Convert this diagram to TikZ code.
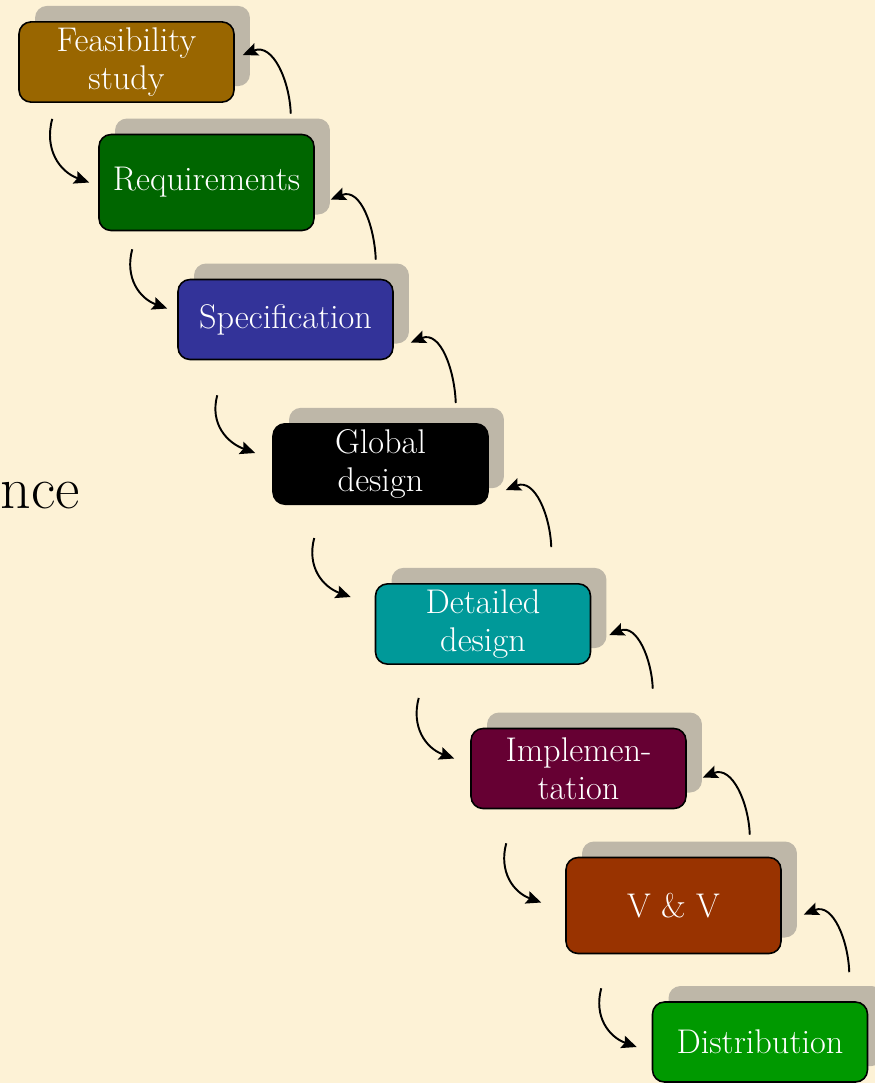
\documentclass[tikz,border=0pt]{standalone}
\usetikzlibrary{calc,arrows.meta,shadows}
\definecolor{paper}{RGB}{253,242,214}
\definecolor{shadowgray}{RGB}{190,183,168}
\definecolor{feascol}{RGB}{153,102,0}
\definecolor{reqcol}{RGB}{0,102,0}
\definecolor{speccol}{RGB}{51,51,153}
\definecolor{detcol}{RGB}{0,153,153}
\definecolor{implcol}{RGB}{102,0,51}
\definecolor{vvcol}{RGB}{153,51,0}
\definecolor{distcol}{RGB}{0,153,0}
\tikzset{
  phase/.style={draw=black, line width=0.9pt, rounded corners=0.24cm,
    minimum width=4.3cm, minimum height=1.6cm, text=white, align=center,
    font=\fontsize{19.5}{21.5}\selectfont,
    drop shadow={shadow xshift=0.32cm, shadow yshift=0.32cm, fill=shadowgray, opacity=1}},
  tallphase/.style={phase, minimum height=1.92cm},
  flow/.style={->, line width=1.1pt},
  down/.style={out=255, in=160, looseness=1.1},
  up/.style={out=92, in=22, looseness=1.1}
}

\begin{document}
\begin{tikzpicture}[x=0.02cm,y=-0.02cm,>={Stealth[length=0.3cm,width=0.26cm,inset=0.05cm]}]
	\fill[paper] (0,0) rectangle (875,1083);
	\useasboundingbox (0,0) rectangle (875,1083);
	\node[anchor=base east, inner sep=0pt, font=\fontsize{34}{40}\selectfont] (tail) at (80,508) {nce};
	\node[phase, fill=feascol] (feas) at (126.5,62) {Feasibility\\study};
	\node[tallphase, fill=reqcol] (req) at (206.5,182.5) {Requirements};
	\node[phase, fill=speccol] (spec) at (285.5,319.5) {Specification};
	\node[phase, fill=black] (glob) at (380.5,464) {Global\\design};
	\node[phase, fill=detcol] (det) at (483,624) {Detailed\\design};
	\node[phase, fill=implcol] (impl) at (578.5,768.5) {Implemen-\\tation};
	\node[tallphase, fill=vvcol] (vv) at (673.5,905.5) {V \& V};
	\node[phase, fill=distcol] (dist) at (760,1042) {Distribution};
	\draw[flow] ([shift={(34,16)}]feas.south west) to[down] ([shift={(-9,0)}]req.west);
	\draw[flow] ([shift={(34,18)}]req.south west) to[down] ([shift={(-10,-11)}]spec.west);
	\draw[flow] ([shift={(40,35)}]spec.south west) to[down] ([shift={(-17,-11)}]glob.west);
	\draw[flow] ([shift={(42,33)}]glob.south west) to[down] ([shift={(-24,-27)}]det.west);
	\draw[flow] ([shift={(44,33)}]det.south west) to[down] ([shift={(-16,-10)}]impl.west);
	\draw[flow] ([shift={(36,34)}]impl.south west) to[down] ([shift={(-24,-3)}]vv.west);
	\draw[flow] ([shift={(36,34)}]vv.south west) to[down] ([shift={(-15,5)}]dist.west);
	\draw[flow] ([shift={(-24,-20)}]req.north east) to[up] ([shift={(8,-7)}]feas.east);
	\draw[flow] ([shift={(-18,-19)}]spec.north east) to[up] ([shift={(16,17)}]req.east);
	\draw[flow] ([shift={(-33,-20)}]glob.north east) to[up] ([shift={(17,23)}]spec.east);
	\draw[flow] ([shift={(-40,-36)}]det.north east) to[up] ([shift={(17,26)}]glob.east);
	\draw[flow] ([shift={(-34,-39)}]impl.north east) to[up] ([shift={(18,11)}]det.east);
	\draw[flow] ([shift={(-32,-22)}]vv.north east) to[up] ([shift={(16,9)}]impl.east);
	\draw[flow] ([shift={(-19,-29)}]dist.north east) to[up] ([shift={(22,9)}]vv.east);
\end{tikzpicture}
\end{document}
